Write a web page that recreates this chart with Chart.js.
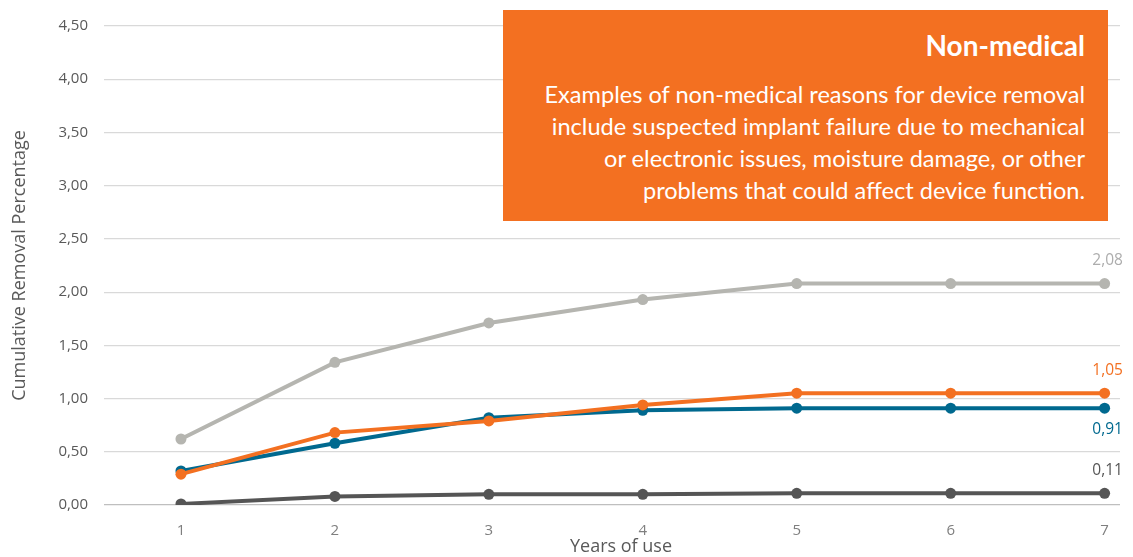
<!DOCTYPE html>
<html>
<head>
<meta charset="utf-8">
<script src="https://cdn.jsdelivr.net/npm/chart.js@4.4.1/dist/chart.umd.min.js"></script>
<style>
  html, body { margin: 0; padding: 0; background: #ffffff; }
  #wrap { position: relative; width: 1133px; height: 557px; }
  #note {
    position: absolute; left: 503px; top: 10px; width: 605px; height: 211px;
    background: #F37021; color: #ffffff; box-sizing: border-box;
    padding: 16px 23px 0 0; text-align: right; font-family: "Lato", sans-serif;
  }
  #note h2 { margin: 0 0 14px 0; font-size: 28px; font-weight: 700; line-height: 38px; }
  #note p { margin: 0; font-size: 23.6px; line-height: 32px; }
</style>
</head>
<body>
<div id="wrap">
  <canvas id="c" width="1133" height="557"></canvas>
  <div id="note">
    <h2>Non-medical</h2>
    <p>Examples of non-medical reasons for device removal<br>include suspected implant failure due to mechanical<br>or electronic issues, moisture damage, or other<br>problems that could affect device function.</p>
  </div>
</div>
<script>
// Years of use
const years = [1, 2, 3, 4, 5, 6, 7];
// Cumulative removal percentage per series
const orangeSeries = [0.29, 0.68, 0.79, 0.94, 1.05, 1.05, 1.05];
const blueSeries   = [0.32, 0.58, 0.82, 0.89, 0.91, 0.91, 0.91];
const graySeries   = [0.62, 1.34, 1.71, 1.93, 2.08, 2.08, 2.08];
const darkSeries   = [0.01, 0.08, 0.10, 0.10, 0.11, 0.11, 0.11];
// Axis ticks
const yTicks = [0, 0.5, 1, 1.5, 2, 2.5, 3, 3.5, 4, 4.5];

const fmt = v => v.toFixed(2).replace('.', ',');
const pts = arr => arr.map((v, i) => ({ x: years[i], y: v }));

function series(data, color, labelPos) {
  return {
    data: pts(data), borderColor: color, backgroundColor: color,
    borderWidth: 4, pointRadius: 5.5, pointHoverRadius: 5.5, pointBorderWidth: 0,
    tension: 0, labelPos
  };
}

// Value label on the final point of each line
const endLabels = {
  id: 'endLabels',
  afterDatasetsDraw(chart) {
    const ctx = chart.ctx;
    ctx.save();
    ctx.font = '15.5px "Open Sans", sans-serif';
    ctx.textAlign = 'center';
    ctx.textBaseline = 'middle';
    chart.data.datasets.forEach((ds, i) => {
      const meta = chart.getDatasetMeta(i);
      const last = meta.data[meta.data.length - 1];
      const v = ds.data[ds.data.length - 1].y;
      ctx.fillStyle = ds.labelColor || ds.borderColor;
      const dy = ds.labelPos === 'below' ? 21 : -23;
      ctx.fillText(fmt(v), last.x + 3, last.y + dy);
    });
    ctx.restore();
  }
};

// Axis title under the x ticks
const xTitle = {
  id: 'xTitle',
  afterDraw(chart) {
    const ctx = chart.ctx;
    ctx.save();
    ctx.font = '18px "Open Sans", sans-serif';
    ctx.fillStyle = '#595959';
    ctx.textAlign = 'center';
    ctx.textBaseline = 'middle';
    ctx.fillText('Years of use', 621, 547);
    ctx.restore();
  }
};

new Chart(document.getElementById('c'), {
  type: 'line',
  data: {
    datasets: [
      series(orangeSeries, '#F37021', 'above'),
      series(blueSeries, '#00698F', 'below'),
      Object.assign(series(graySeries, '#B5B5B0', 'above'), { labelColor: '#ADADAD' }),
      series(darkSeries, '#555555', 'above')
    ]
  },
  options: {
    responsive: false,
    animation: false,
    events: [],
    layout: { padding: { top: 26, right: 13, left: 9, bottom: 0 } },
    plugins: { legend: { display: false }, tooltip: { enabled: false } },
    scales: {
      x: {
        type: 'linear', min: 0.5, max: 7.1,
        afterBuildTicks: s => { s.ticks = years.map(v => ({ value: v })); },
        afterFit: s => { s.height = 52; },
        grid: { display: false },
        border: { display: false },
        ticks: { color: '#7F7F7F', font: { family: '"Open Sans", sans-serif', size: 15 }, padding: 9, maxRotation: 0, autoSkip: false }
      },
      y: {
        min: 0, max: 4.5,
        afterBuildTicks: s => { s.ticks = yTicks.map(v => ({ value: v })); },
        afterFit: s => { s.width = 95; },
        grid: { color: ctx => ctx.tick && ctx.tick.value === 0 ? '#BFBFBF' : '#D9D9D9', lineWidth: 1.2, drawTicks: false },
        border: { display: false },
        ticks: { color: '#595959', font: { family: '"Open Sans", sans-serif', size: 15 }, padding: 16, callback: v => fmt(v) },
        title: { display: true, text: 'Cumulative Removal Percentage', color: '#595959', font: { family: '"Open Sans", sans-serif', size: 18 }, padding: { top: 0, bottom: 6 } }
      }
    }
  },
  plugins: [endLabels, xTitle]
});
</script>
</body>
</html>
